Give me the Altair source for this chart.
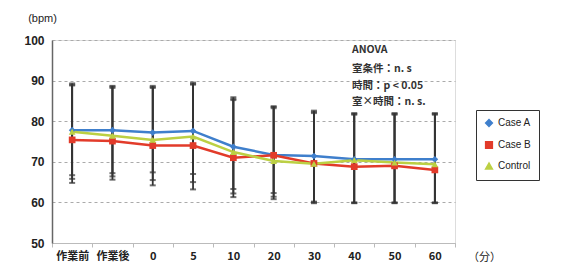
import altair as alt
import pandas as pd

categories = ["作業前", "作業後", "0", "5", "10", "20", "30", "40", "50", "60"]
series_names = ["Case A", "Case B", "Control"]

case_a = [77.8, 77.8, 77.2, 77.6, 73.7, 71.7, 71.4, 70.6, 70.6, 70.6]
case_b = [75.4, 75.1, 74.0, 74.0, 71.0, 71.6, 69.6, 68.8, 69.0, 68.0]
control = [77.4, 76.4, 75.4, 76.2, 72.4, 70.2, 69.5, 70.4, 69.8, 69.4]

case_a_hi = [89.3, 88.7, 88.7, 89.5, 85.9, 83.7, 82.6, 82.0, 82.0, 82.0]
case_a_lo = [66.7, 67.2, 67.4, 67.0, 63.3, 62.3, 60.2, 60.0, 60.0, 60.0]
case_b_hi = [89.0, 88.5, 88.4, 89.2, 85.5, 83.5, 82.3, 81.8, 81.8, 81.8]
case_b_lo = [64.8, 65.6, 64.2, 63.2, 61.3, 60.8, 59.8, 59.8, 59.8, 59.8]
control_hi = [88.8, 88.2, 88.2, 89.0, 85.2, 83.2, 82.0, 81.6, 81.6, 81.6]
control_lo = [65.8, 66.4, 65.5, 65.0, 62.2, 61.4, 60.0, 59.9, 59.9, 59.9]

anova_lines = ["ANOVA", "室条件：n. s", "時間：p < 0.05", "室×時間：n. s."]

means = [case_a, case_b, control]
highs = [case_a_hi, case_b_hi, control_hi]
lows = [case_a_lo, case_b_lo, control_lo]

rows = []
for s, m, h, l in zip(series_names, means, highs, lows):
    for c, mv, hv, lv in zip(categories, m, h, l):
        rows.append({"time": c, "series": s, "value": mv, "hi": hv, "lo": lv})
df = pd.DataFrame(rows)

colors = ["#3f7fcc", "#e23b2a", "#bcd043"]
shapes = ["diamond", "square", "triangle-up"]

x_enc = alt.X(
    "time:N",
    sort=categories,
    scale=alt.Scale(domain=categories, paddingInner=0, paddingOuter=0),
    axis=alt.Axis(
        title="（分）", labelAngle=0, labelFont="Noto Sans CJK JP", labelFontWeight="bold",
        labelFontSize=11, labelColor="#222", labelPadding=3,
        domainColor="#bbb", tickColor="#bbb", tickSize=4, tickBand="extent",
        titleFont="Noto Sans CJK JP", titleFontWeight="normal", titleFontSize=11,
        titleX=432, titleY=14, titleAlign="center", titleBaseline="middle", titleColor="#222",
    ),
)
y_scale = alt.Scale(domain=[50, 100], nice=False, zero=False)

base = alt.Chart(df)

bars = base.mark_rule(color="#333", strokeWidth=1.8).encode(
    x=x_enc,
    y=alt.Y("lo:Q", scale=y_scale),
    y2="hi:Q",
)
caps_hi = base.mark_tick(color="#333", size=6, thickness=2, orient="horizontal").encode(
    x=x_enc, y=alt.Y("hi:Q", scale=y_scale)
)
caps_lo = base.mark_tick(color="#333", size=6, thickness=2, orient="horizontal").encode(
    x=x_enc, y=alt.Y("lo:Q", scale=y_scale)
)

legend_cfg = dict(
    title=None, orient="none", legendX=424, legendY=70,
    strokeColor="#333", padding=8, labelFontSize=10, labelFont="Liberation Sans",
    labelColor="#222", symbolSize=45, rowPadding=8, fillColor="white",
)
color_enc = alt.Color(
    "series:N",
    scale=alt.Scale(domain=series_names, range=colors),
    legend=alt.Legend(**legend_cfg),
)
shape_enc = alt.Shape(
    "series:N",
    scale=alt.Scale(domain=series_names, range=shapes),
    legend=alt.Legend(**legend_cfg),
)

lines = base.mark_line(strokeWidth=2.5).encode(
    x=x_enc,
    y=alt.Y(
        "value:Q",
        scale=y_scale,
        axis=alt.Axis(
            values=[50, 60, 70, 80, 90, 100], title="(bpm)", titleAngle=0,
            titleX=-10, titleY=-22, titleAlign="center", titleBaseline="middle",
            titleFont="Liberation Sans", titleFontWeight="normal", titleFontSize=11, titleColor="#222",
            labelFont="Liberation Sans", labelFontWeight="bold", labelFontSize=12, labelColor="#222",
            labelPadding=8, domainColor="#666", domainWidth=1.5, ticks=False,
            grid=True, gridDash=[3, 3], gridColor="#aaa",
        ),
    ),
    color=color_enc,
    detail="series:N",
)
points = base.mark_point(filled=True, size=45, opacity=1).encode(
    x=x_enc,
    y=alt.Y("value:Q", scale=y_scale),
    color=color_enc,
    shape=shape_enc,
)

anova_df = pd.DataFrame({"line": anova_lines, "ypos": [10, 29, 46, 62]})
anova = alt.Chart(anova_df).mark_text(
    align="left", baseline="middle", font="Noto Sans CJK JP", fontSize=10.5,
    fontWeight="bold", color="#333"
).encode(
    x=alt.value(300),
    y=alt.Y("ypos:Q", scale=None),
    text="line:N",
)

chart = alt.layer(bars, caps_hi, caps_lo, lines, points, anova).properties(
    width=403, height=203,
    autosize=alt.AutoSizeParams(type="none"),
    padding={"left": 44, "top": 32, "right": 104, "bottom": 22},
).configure_view(stroke="#444", strokeWidth=1.5).configure(background="white")

chart.save("out.html", embed_options={"renderer": "svg", "actions": False})
